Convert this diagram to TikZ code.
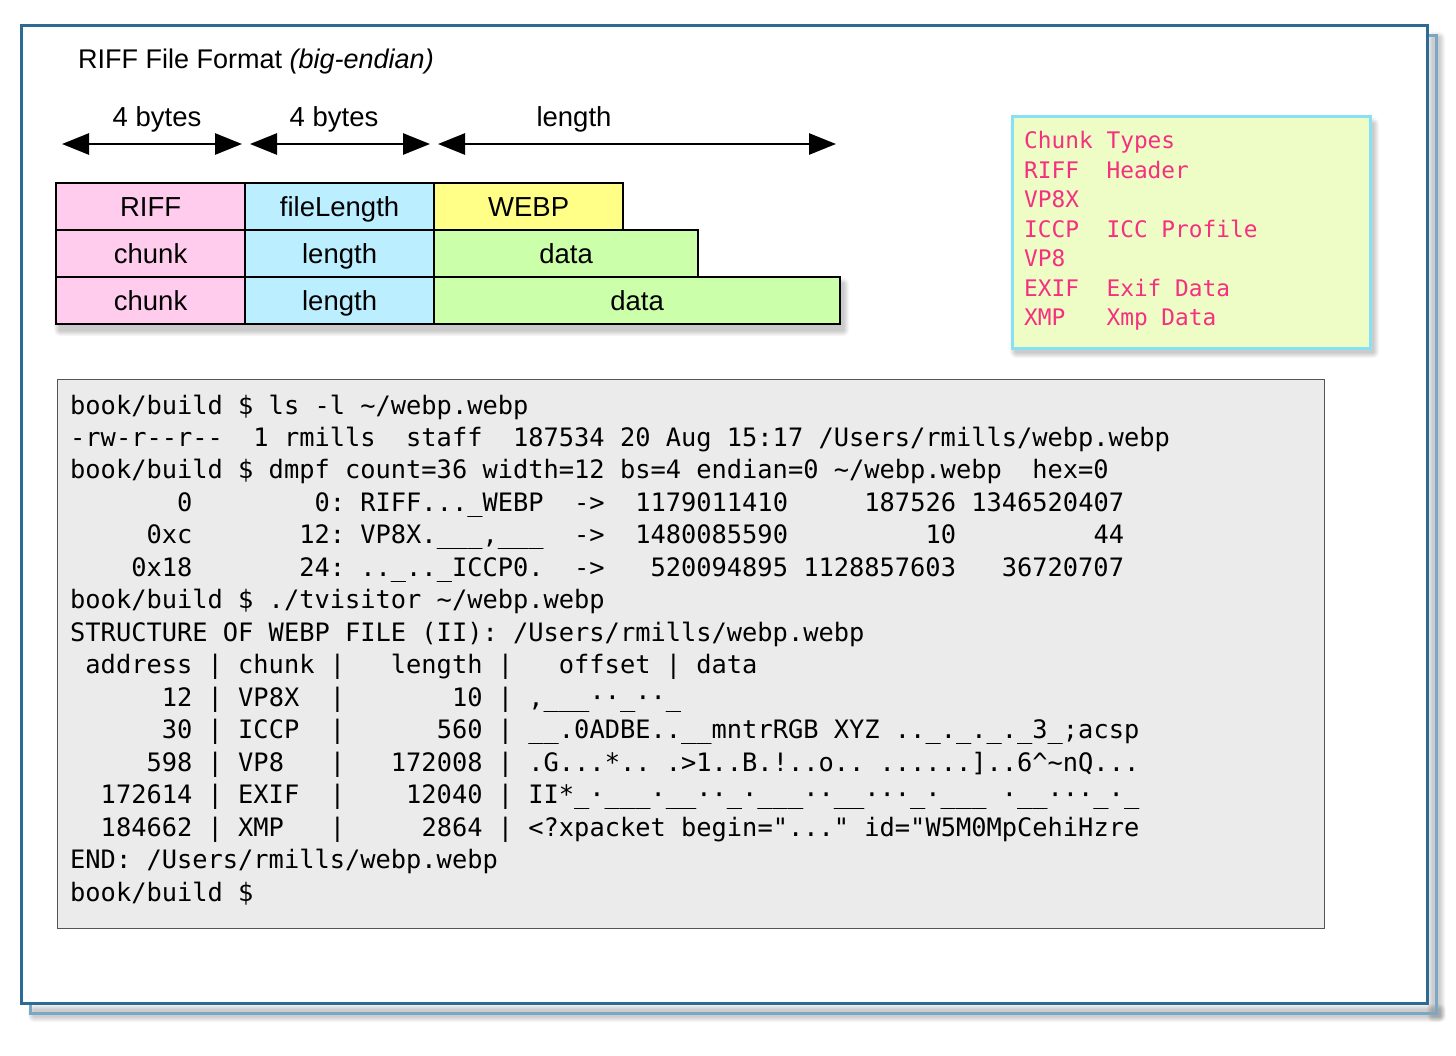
\documentclass[tikz,border=0pt]{standalone}
\usepackage{fontspec}
\setmainfont{Liberation Sans}
\setmonofont{DejaVu Sans Mono}
\usetikzlibrary{arrows.meta}
\definecolor{pinkc}{HTML}{FFCCEE}
\definecolor{cyanc}{HTML}{BBEEFF}
\definecolor{yellowc}{HTML}{FFFF88}
\definecolor{greenc}{HTML}{CCFFAA}
\definecolor{chunkbg}{HTML}{EEFCC6}
\definecolor{chunkbd}{HTML}{88E0F4}
\definecolor{chunktx}{HTML}{F5307F}
\definecolor{termbg}{HTML}{EBEBEB}
\definecolor{termbd}{HTML}{555555}
\definecolor{frameb}{HTML}{2D6A94}
\definecolor{framebl}{HTML}{7BA7C7}
\newcommand\softshadow[4]{%
  \foreach \k in {1,...,6}{%
    \fill[black,opacity=0.035,rounded corners=\k pt] ({#1-\k},{#2-\k}) rectangle ({#3+\k},{#4+\k});
  }}
\begin{document}
\begin{tikzpicture}[x=1pt,y=-1pt,
  cell/.style={draw=black, line width=2.2pt, minimum height=47, anchor=north west,
    inner sep=0pt, text height=20pt, text depth=0pt, font=\fontsize{27.5}{30}\selectfont},
  dimarrow/.style={line width=2.7pt, {Triangle[length=27pt,width=21pt]}-{Triangle[length=27pt,width=21pt]}},
  dimlabel/.style={anchor=base, inner sep=0pt, font=\fontsize{27.5}{30}\selectfont},
  termline/.style={anchor=base west, inner sep=0pt, font=\ttfamily\fontsize{25.37}{30}\selectfont},
  chunkline/.style={anchor=base west, inner sep=0pt, text=chunktx, font=\ttfamily\fontsize{22.8}{28}\selectfont}
]
\useasboundingbox (0,0) rectangle (1456,1055);

% outer frame with offset frame and shadow
\softshadow{34}{1010}{1440}{1016}
\softshadow{1433}{38}{1439}{1016}
\draw[framebl, line width=3pt] (30,35) rectangle (1436,1013);
\node[draw=frameb, fill=white, line width=2.5pt, anchor=north west, minimum width=1406, minimum height=978, inner sep=0pt] (frame) at (20,24) {};

% title
\node[anchor=base west, inner sep=0pt, font=\fontsize{27}{30}\selectfont] (title) at (78,68) {RIFF File Format \textit{(big-endian)}};

% dimension arrows
\coordinate (a1l) at (62,144);
\coordinate (a1r) at (242,144);
\coordinate (a2l) at (250,144);
\coordinate (a2r) at (430,144);
\coordinate (a3l) at (438,144);
\coordinate (a3r) at (836,144);
\draw[dimarrow] (a1l) -- (a1r);
\draw[dimarrow] (a2l) -- (a2r);
\draw[dimarrow] (a3l) -- (a3r);
\node[dimlabel] (lb1) at (157,126) {4 bytes};
\node[dimlabel] (lb2) at (334,126) {4 bytes};
\node[dimlabel] (lb3) at (574,126) {length};

% block rows
\softshadow{60}{284}{843}{330}
\node[cell, fill=pinkc, minimum width=189] (riff) at (55,182) {RIFF};
\node[cell, fill=cyanc, minimum width=189] (flen) at (244,182) {fileLength};
\node[cell, fill=yellowc, minimum width=189] (webp) at (433,182) {WEBP};
\node[cell, fill=pinkc, minimum width=189] (ch1) at (55,229) {chunk};
\node[cell, fill=cyanc, minimum width=189] (len1) at (244,229) {length};
\node[cell, fill=greenc, minimum width=264] (dat1) at (433,229) {data};
\node[cell, fill=pinkc, minimum width=189] (ch2) at (55,276) {chunk};
\node[cell, fill=cyanc, minimum width=189] (len2) at (244,276) {length};
\node[cell, fill=greenc, minimum width=406] (dat2) at (433,276) {data};

% chunk types box
\softshadow{1016}{124}{1373}{352}
\node[draw=chunkbd, fill=chunkbg, line width=3pt, anchor=north west, minimum width=358, minimum height=232, inner sep=0pt] (chunkbox) at (1011,115) {};
\node[chunkline] (c1) at (1024,148.5) {Chunk~Types};
\node[chunkline] (c2) at (1024,178) {RIFF~~Header};
\node[chunkline] (c3) at (1024,207.5) {VP8X};
\node[chunkline] (c4) at (1024,237) {ICCP~~ICC~Profile};
\node[chunkline] (c5) at (1024,266.5) {VP8};
\node[chunkline] (c6) at (1024,296) {EXIF~~Exif~Data};
\node[chunkline] (c7) at (1024,325.5) {XMP~~~Xmp~Data};

% terminal box
\node[draw=termbd, fill=termbg, line width=1.4pt, anchor=north west, minimum width=1267, minimum height=549, inner sep=0pt] (term) at (57,379) {};
\node[termline] (t1) at (70,414) {book/build~\$~ls~-l~\textasciitilde/webp.webp};
\node[termline] (t2) at (70,446.47) {-rw-r-{}-r-{}-~~1~rmills~~staff~~187534~20~Aug~15:17~/Users/rmills/webp.webp};
\node[termline] (t3) at (70,478.94) {book/build~\$~dmpf~count=36~width=12~bs=4~endian=0~\textasciitilde/webp.webp~~hex=0};
\node[termline] (t4) at (70,511.41) {~~~~~~~0~~~~~~~~0:~RIFF...\_WEBP~~->~~1179011410~~~~~187526~1346520407};
\node[termline] (t5) at (70,543.88) {~~~~~0xc~~~~~~~12:~VP8X.\_\_\_,\_\_\_~~->~~1480085590~~~~~~~~~10~~~~~~~~~44};
\node[termline] (t6) at (70,576.35) {~~~~0x18~~~~~~~24:~..\_..\_ICCP0.~~->~~~520094895~1128857603~~~36720707};
\node[termline] (t7) at (70,608.82) {book/build~\$~./tvisitor~\textasciitilde/webp.webp};
\node[termline] (t8) at (70,641.29) {STRUCTURE~OF~WEBP~FILE~(II):~/Users/rmills/webp.webp};
\node[termline] (t9) at (70,673.76) {~address~|~chunk~|~~~length~|~~~offset~|~data};
\node[termline] (t10) at (70,706.23) {~~~~~~12~|~VP8X~~|~~~~~~~10~|~,\_\_\_··\_··\_};
\node[termline] (t11) at (70,738.7) {~~~~~~30~|~ICCP~~|~~~~~~560~|~\_\_.0ADBE..\_\_mntrRGB~XYZ~..\_.\_.\_.\_3\_;acsp};
\node[termline] (t12) at (70,771.17) {~~~~~598~|~VP8~~~|~~~172008~|~.G...*..~.>1..B.!..o..~......]..6\textasciicircum\textasciitilde nQ...};
\node[termline] (t13) at (70,803.64) {~~172614~|~EXIF~~|~~~~12040~|~II*\_·\_\_\_·\_\_··\_·\_\_\_··\_\_···\_·\_\_\_~·\_\_···\_·\_};
\node[termline] (t14) at (70,836.11) {~~184662~|~XMP~~~|~~~~~2864~|~<?xpacket~begin="..."~id="W5M0MpCehiHzre};
\node[termline] (t15) at (70,868.58) {END:~/Users/rmills/webp.webp};
\node[termline] (t16) at (70,901.05) {book/build~\$};
\end{tikzpicture}
\end{document}
